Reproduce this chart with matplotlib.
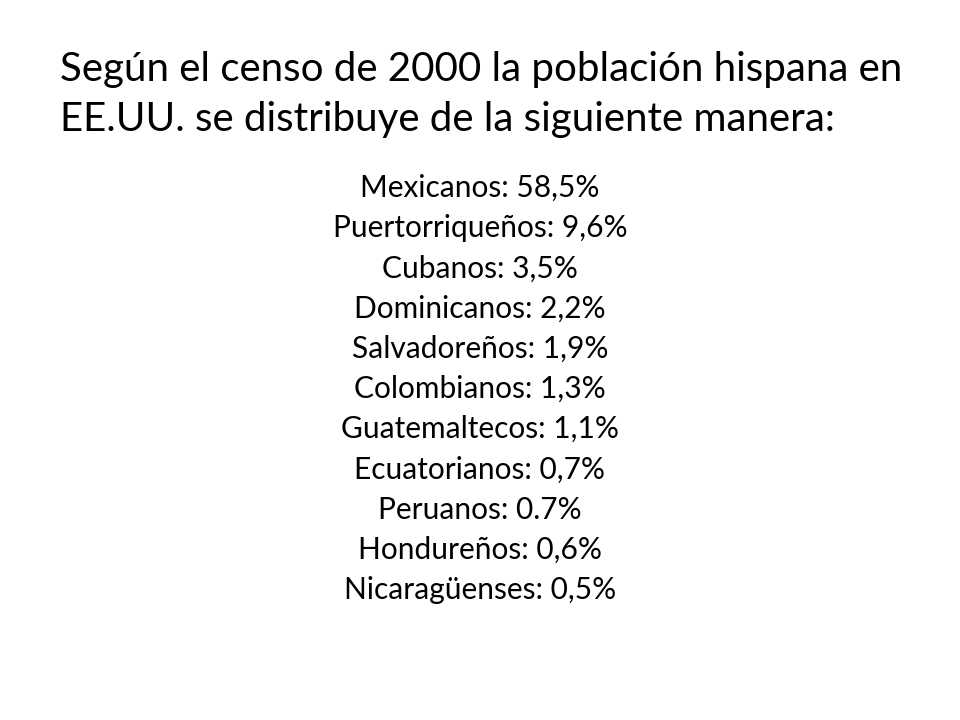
import matplotlib.pyplot as plt

plt.rcParams['font.family'] = ['Lato', 'DejaVu Sans']

title_lines = ["Según el censo de 2000 la población hispana en",
               "EE.UU. se distribuye de la siguiente manera:"]
groups = ["Mexicanos", "Puertorriqueños", "Cubanos", "Dominicanos", "Salvadoreños",
          "Colombianos", "Guatemaltecos", "Ecuatorianos", "Peruanos", "Hondureños",
          "Nicaragüenses"]
shares = ["58,5%", "9,6%", "3,5%", "2,2%", "1,9%", "1,3%", "1,1%", "0,7%", "0.7%",
          "0,6%", "0,5%"]

fig = plt.figure(figsize=(9.6, 7.2), dpi=100)
fig.patch.set_facecolor('white')

# title, pixel coords converted to figure fractions
for i, line in enumerate(title_lines):
    fig.text(60 / 960, 1 - (70 + i * 50) / 720, line, fontsize=29,
             ha='left', va='center', color='black')

for i, (g, s) in enumerate(zip(groups, shares)):
    fig.text(0.5, 1 - (188 + i * 40.2) / 720, f"{g}: {s}", fontsize=21.5,
             ha='center', va='center', color='black')

fig.savefig('out.png', dpi=100)
